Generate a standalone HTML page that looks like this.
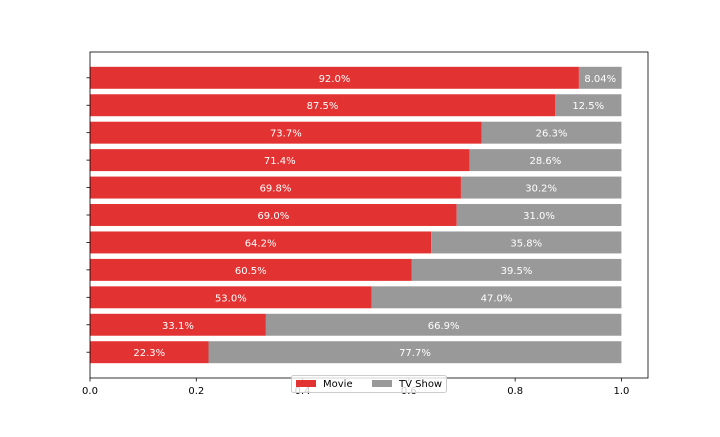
<!DOCTYPE html>
<html><head><meta charset="utf-8"><style>
body{margin:0;background:#fff;}
svg text{font-family:"DejaVu Sans","Liberation Sans",sans-serif;}
</style></head><body>
<svg id="c" width="720" height="432" xmlns="http://www.w3.org/2000/svg"></svg>
<script>
const movieVals=[22.3,33.1,53.0,60.5,64.2,69.0,69.8,71.4,73.7,87.5,92.0];
const tvVals=[77.7,66.9,47.0,39.5,35.8,31.0,30.2,28.6,26.3,12.5,8.04];
const xTicks=[0,0.2,0.4,0.6,0.8,1.0];
const xTickLabels=["0.0","0.2","0.4","0.6","0.8","1.0"];
const NS="http://www.w3.org/2000/svg";
const svg=document.getElementById('c');
const L=90,R=648,T=52,B=378;
const x=v=>L+(v-0)/(1.05)*(R-L);
const n=movieVals.length;
const ymin=-0.94,ymax=(n-1)+0.94;
const y=v=>T+(ymax-v)/(ymax-ymin)*(B-T);
const bh=0.8*(B-T)/(ymax-ymin);
function mk(t,a){const e=document.createElementNS(NS,t);for(const k in a)e.setAttribute(k,a[k]);svg.appendChild(e);return e;}
function fmt(v){return (v<10?v.toFixed(2):v.toFixed(1))+'%';}
for(let i=0;i<n;i++){
  const m=movieVals[i]/100,t=tvVals[i]/100,cy=y(i);
  let r=mk('rect',{x:x(0),y:cy-bh/2,width:x(m)-x(0),height:bh,fill:'#e33232'});
  
  
  r=mk('rect',{x:x(m),y:cy-bh/2,width:x(m+t)-x(m),height:bh,fill:'#999999'});
  
  
  let tx=mk('text',{x:(x(0)+x(m))/2,y:cy+4,'font-size':10,fill:'#fff','text-anchor':'middle'});
  tx.textContent=fmt(movieVals[i]);
  
  
  tx=mk('text',{x:(x(m)+x(m+t))/2,y:cy+4,'font-size':10,fill:'#fff','text-anchor':'middle'});
  tx.textContent=fmt(tvVals[i]);
  
  
  const tk=mk('line',{x1:L-3.5,x2:L,y1:cy,y2:cy,stroke:'#000','stroke-width':0.8});
  
  
}
xTicks.forEach((v,i)=>{
  const tk=mk('line',{x1:x(v),x2:x(v),y1:B,y2:B+3.5,stroke:'#000','stroke-width':0.8});
  
  
  const t=mk('text',{x:x(v),y:B+16,'font-size':10,fill:'#000','text-anchor':'middle'});
  t.textContent=xTickLabels[i];
  
  
});
const fr=mk('rect',{x:L,y:T,width:R-L,height:B-T,fill:'none',stroke:'#000','stroke-width':0.8});


const g=mk('g',{});


const lb=mk('rect',{x:291.5,y:375.5,width:155,height:17,rx:2,fill:'#fff','fill-opacity':0.8,stroke:'#ccc'});


const items=[['Movie','#e33232',296],['TV Show','#999999',372]];
items.forEach(it=>{
  const s=mk('rect',{x:it[2],y:380,width:20,height:7,fill:it[1]});
  
  
  const t=mk('text',{x:it[2]+27,y:387,'font-size':10,fill:'#000'});
  t.textContent=it[0];
  
  
});
</script>
</body></html>
